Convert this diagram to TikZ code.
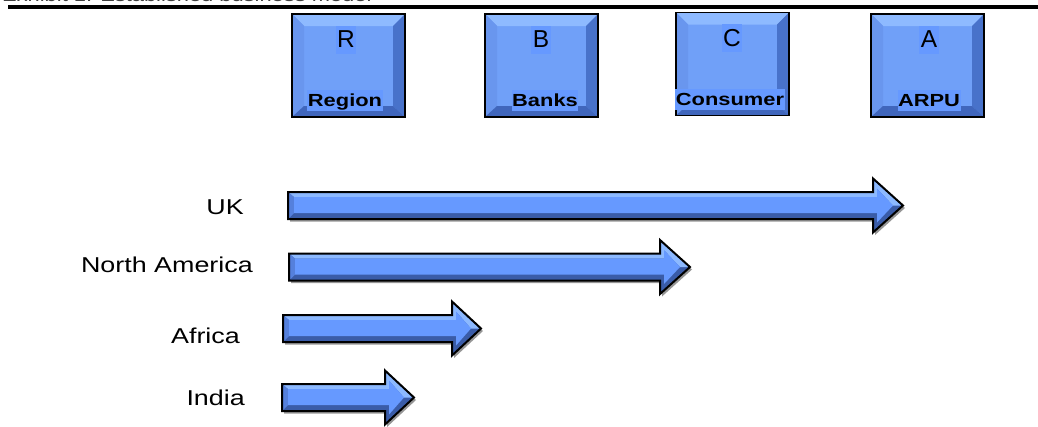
\documentclass[tikz,border=0pt]{standalone}
\usepackage{fontspec}
\setmainfont{Liberation Sans}[FakeStretch=1.25]
\newfontfamily\plainfont{Liberation Sans}
\definecolor{face}{RGB}{112,160,248}
\definecolor{txtbg}{RGB}{102,153,255}
\definecolor{bevT}{RGB}{142,186,255}
\definecolor{bevL}{RGB}{105,150,238}
\definecolor{bevR}{RGB}{72,114,202}
\definecolor{bevB}{RGB}{64,102,188}
\definecolor{arface}{RGB}{102,153,255}
\definecolor{arlight}{RGB}{140,185,255}
\definecolor{ardark}{RGB}{58,92,168}
\definecolor{arleft}{RGB}{85,128,220}
\definecolor{shadowc}{RGB}{150,150,150}
\tikzset{
  keybox/.style={draw=black, line width=1.5pt, fill=face, minimum width=113pt, minimum height=103pt, inner sep=0pt,
    path picture={
      \fill[bevT] (path picture bounding box.north west) -- (path picture bounding box.north east) -- ([shift={(-12pt,-12pt)}]path picture bounding box.north east) -- ([shift={(12pt,-12pt)}]path picture bounding box.north west) -- cycle;
      \fill[bevL] (path picture bounding box.north west) -- ([shift={(12pt,-12pt)}]path picture bounding box.north west) -- ([shift={(12pt,11pt)}]path picture bounding box.south west) -- (path picture bounding box.south west) -- cycle;
      \fill[bevR] (path picture bounding box.north east) -- ([shift={(-12pt,-12pt)}]path picture bounding box.north east) -- ([shift={(-12pt,11pt)}]path picture bounding box.south east) -- (path picture bounding box.south east) -- cycle;
      \fill[bevB] (path picture bounding box.south west) -- ([shift={(12pt,11pt)}]path picture bounding box.south west) -- ([shift={(-12pt,11pt)}]path picture bounding box.south east) -- (path picture bounding box.south east) -- cycle;
    }},
  letterlbl/.style={anchor=base, fill=txtbg, inner xsep=1.5pt, inner ysep=3pt, text height=19pt, text depth=3pt, font=\plainfont\fontsize{24.5}{28}\selectfont},
  namelbl/.style={anchor=base, fill=txtbg, inner xsep=0.5pt, inner ysep=1.5pt, text height=15pt, text depth=3pt, font=\fontsize{17.5}{20}\selectfont\bfseries},
  rowlbl/.style={anchor=base east, inner sep=0pt, font=\fontsize{21.5}{25}\selectfont},
}
% #1 name, #2 left x, #3 centre y, #4 head base x, #5 tip x
\newcommand\BevArrow[5]{%
  \coordinate (#1-tail) at (#2,#3);
  \coordinate (#1-tip) at (#5,#3);
  \begin{scope}[shift={(2,2.5)}]
    \fill[shadowc] (#2,{#3-13.5}) -- (#4,{#3-13.5}) -- (#4,{#3-27}) -- (#5,#3) -- (#4,{#3+27}) -- (#4,{#3+13.5}) -- (#2,{#3+13.5}) -- cycle;
  \end{scope}
  \fill[ardark] (#2,{#3-13.5}) -- (#4,{#3-13.5}) -- (#4,{#3-27}) -- (#5,#3) -- (#4,{#3+27}) -- (#4,{#3+13.5}) -- (#2,{#3+13.5}) -- cycle;
  \fill[arlight] (#2,{#3-13.5}) -- (#4,{#3-13.5}) -- (#4,{#3-27}) -- (#5,#3) -- ({#5-10},#3) -- ({#4+4},{#3-17}) -- ({#4+4},{#3-8.5}) -- ({#2+6},{#3-8.5}) -- cycle;
  \fill[arleft] (#2,{#3-13.5}) -- ({#2+6},{#3-8.5}) -- ({#2+6},{#3+7.5}) -- (#2,{#3+13.5}) -- cycle;
  \fill[arface] ({#2+6},{#3-8.5}) -- ({#4+4},{#3-8.5}) -- ({#4+4},{#3-17}) -- ({#5-10},#3) -- ({#4+4},{#3+17}) -- ({#4+4},{#3+7.5}) -- ({#2+6},{#3+7.5}) -- cycle;
  \draw[black, line width=2pt, line join=miter] (#2,{#3-13.5}) -- (#4,{#3-13.5}) -- (#4,{#3-27}) -- (#5,#3) -- (#4,{#3+27}) -- (#4,{#3+13.5}) -- (#2,{#3+13.5}) -- cycle;
}
\begin{document}
\begin{tikzpicture}[x=1pt, y=-1pt]
\useasboundingbox (0,0) rectangle (1038,426);
\clip (0,0) rectangle (1038,426);
\node[anchor=base west, inner sep=0pt, font=\fontsize{17.5}{20}\selectfont, text=black!75] (title) at (2,1.6) {Exhibit 1: Established business model};
\coordinate (rule-l) at (8,7);
\coordinate (rule-r) at (1038,7);
\draw[line width=4.6pt] (rule-l) -- (rule-r);
% boxes
\node[keybox] (boxR) at (348.5,65.5) {};
\node[keybox] (boxB) at (541.5,65.5) {};
\node[keybox] (boxC) at (732.5,64) {};
\node[keybox] (boxA) at (927.5,65.5) {};
\node[letterlbl] (lR) at (346,47.5) {R};
\node[letterlbl] (lB) at (541,47.5) {B};
\node[letterlbl] (lC) at (732,46) {C};
\node[letterlbl] (lA) at (929,47.5) {A};
\node[namelbl] (nR) at (345,106.5) {Region};
\node[namelbl] (nB) at (545,106.5) {Banks};
\node[namelbl] (nC) at (730,105) {Consumer};
\node[namelbl] (nA) at (929,106.5) {ARPU};
% arrows
\BevArrow{aUK}{288}{205.5}{873}{903}
\BevArrow{aNA}{289}{267}{660}{690}
\BevArrow{aAF}{283}{328.5}{452}{481}
\BevArrow{aIN}{282}{397.5}{385}{414}
% row labels
\node[rowlbl] (tUK) at (244,214) {UK};
\node[rowlbl] (tNA) at (253,272) {North America};
\node[rowlbl] (tAF) at (240,343) {Africa};
\node[rowlbl] (tIN) at (245,405) {India};
\end{tikzpicture}
\end{document}
